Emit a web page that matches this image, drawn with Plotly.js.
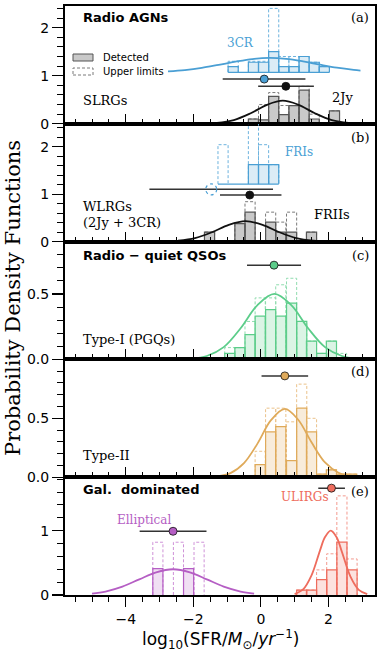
<!DOCTYPE html>
<html>
<head>
<meta charset="utf-8">
<script src="https://cdn.plot.ly/plotly-3.0.1.min.js"></script>
<style>
  html, body { margin: 0; padding: 0; background: #fff; }
  #chart { width: 382px; height: 655px; }
</style>
</head>
<body>
<div id="chart"></div>
<script>
////////////////// data ////////////////////////
// every histogram uses bins 0.3 dex wide, values are PDF heights
const binWidth = 0.3;

// (a) radio AGNs - SLRGs, 3CR histogram sits on an offset of 1.07
const cr3Offset = 1.07;
const cr3Centers = [-0.82, -0.52, -0.22, 0.08, 0.38, 0.68, 0.98, 1.28, 1.58, 1.88];
const cr3Detected = [0.12, 0, 0.21, 0.21, 0.43, 0.12, 0.12, 0.33, 0.21, 0.12];
const cr3All = [0.23, 0, 0.23, 0.23, 1.33, 0.33, 0.33, 0.33, 0.21, 0.12];
const cr3CurveX = [-2.75, -2.25, -1.75, -1.25, -0.75, -0.25, 0.25, 0.75, 1.25, 1.75, 2.25, 2.75, 2.95];
const cr3CurveY = [1.092, 1.118, 1.163, 1.226, 1.292, 1.347, 1.37, 1.351, 1.298, 1.23, 1.167, 1.121, 1.108];

const jyCenters = [-0.22, 0.08, 0.38, 0.68, 0.98, 1.28, 1.58, 2.18];
const jyDetected = [0.10, 0.08, 0.57, 0.19, 0.38, 0.70, 0.10, 0.27];
const jyAll = [0.10, 0.40, 0.65, 0.38, 0.38, 0.78, 0.20, 0.27];
const jyCurveX = [-1.8, -1.3, -0.8, -0.3, 0.2, 0.65, 1.1, 1.6, 2.1, 2.6, 3.1, 3.3];
const jyCurveY = [0.003, 0.018, 0.078, 0.22, 0.40, 0.48, 0.40, 0.22, 0.078, 0.018, 0.003, 0.001];

// (b) WLRGs - FRIs on an offset of 1.21, FRIIs at the bottom
const friOffset = 1.21;
const friCenters = [-1.12, -0.82, -0.52, -0.22, 0.08, 0.38];
const friDetected = [0, 0, 0, 0.41, 0.41, 0.41];
const friAll = [0.83, 0, 0, 1.33, 0.83, 0.41];

const friiCenters = [-1.52, -1.22, -0.92, -0.62, -0.32, -0.02, 0.29, 0.59, 0.91, 1.21, 1.50];
const friiDetected = [0.2, 0, 0, 0.38, 0.62, 0, 0.41, 0.2, 0.2, 0, 0.2];
const friiAll = [0.2, 0, 0, 0.38, 0.84, 0, 0.62, 0.41, 0.62, 0, 0.2];
const friiCurveX = [-2.45, -1.95, -1.45, -0.95, -0.45, 0.05, 0.55, 1.05, 1.55, 2.05];
const friiCurveY = [0.019, 0.074, 0.197, 0.354, 0.43, 0.354, 0.197, 0.074, 0.019, 0.003];

// (c) radio-quiet QSOs, Type-I (PGQs)
const pgqCenters = [-0.92, -0.62, -0.32, -0.02, 0.29, 0.59, 0.91, 1.21, 1.50, 1.80, 2.09, 2.39];
const pgqDetected = [0.046, 0.09, 0.19, 0.33, 0.38, 0.33, 0.43, 0.29, 0.14, 0.046, 0.14, 0];
const pgqAll = [0.09, 0.09, 0.29, 0.47, 0.47, 0.57, 0.62, 0.29, 0.14, 0.046, 0.14, 0.046];
const pgqCurveX = [-2.05, -1.6, -1.1, -0.6, -0.1, 0.4, 0.9, 1.4, 1.9, 2.4, 2.85];
const pgqCurveY = [0.006, 0.026, 0.094, 0.238, 0.415, 0.5, 0.415, 0.238, 0.094, 0.026, 0.006];

// (d) Type-II
const t2Centers = [-0.02, 0.29, 0.59, 0.91, 1.21, 1.50, 1.80, 2.09, 2.39, 2.69];
const t2Detected = [0.106, 0.385, 0.43, 0.14, 0.586, 0.385, 0.026, 0.063, 0.026, 0.026];
const t2All = [0.22, 0.586, 0.586, 0.47, 0.79, 0.50, 0.026, 0.063, 0.026, 0.026];
const t2CurveX = [-1.3, -0.9, -0.5, -0.1, 0.3, 0.71, 1.1, 1.5, 1.9, 2.3, 2.7];
const t2CurveY = [0.007, 0.035, 0.12, 0.285, 0.484, 0.58, 0.49, 0.296, 0.125, 0.038, 0.008];

// (e) galaxy dominated - ellipticals and ULIRGs
const ellCenters = [-3.05, -2.75, -2.44, -2.14, -1.83];
const ellDetected = [0.41, 0, 0, 0.41, 0];
const ellAll = [0.82, 0, 0.82, 0.41, 0.82];
const ellCurveX = [-5.0, -4.6, -4.1, -3.6, -3.1, -2.6, -2.1, -1.6, -1.1, -0.6, -0.2];
const ellCurveY = [0.022, 0.054, 0.13, 0.243, 0.353, 0.40, 0.353, 0.243, 0.13, 0.054, 0.022];

const ulCenters = [1.21, 1.50, 1.80, 2.10, 2.40, 2.70];
const ulDetected = [0.077, 0.077, 0.24, 0.39, 0.82, 0.39];
const ulAll = [0.077, 0.077, 0.39, 0.64, 1.54, 0.56];
const ulCurveX = [1.0, 1.25, 1.5, 1.75, 1.9, 2.07, 2.25, 2.4, 2.65, 2.9, 3.15];
const ulCurveY = [0.015, 0.086, 0.305, 0.69, 0.90, 1.0, 0.89, 0.67, 0.29, 0.081, 0.014];

// mean SFR of each sample with its spread (dot + horizontal bar)
const meanPanel = [1, 1, 2, 2, 3, 4, 5, 5];
const meanX = [0.10, 0.74, -1.47, -0.33, 0.39, 0.71, -2.60, 2.09];
const meanY = [0.93, 0.78, 1.10, 0.98, 0.72, 0.86, 0.99, 1.66];
const meanErrMinus = [1.23, 0.82, 1.83, 0.88, 0.80, 0.69, 0.99, 0.39];
const meanErrPlus = [1.22, 0.83, 1.83, 0.94, 0.80, 0.69, 0.99, 0.40];

////////////////// colours ////////////////////////
const cBlue = "#4a9fd4", cBlueFill = "rgba(74,159,212,0.2)";
const cBlack = "#111111", cGrayEdge = "#555555", cGrayFill = "#c9c9c9", cGrayDash = "#7a7a7a";
const cGreen = "#5ccd8a", cGreenFill = "rgba(92,205,138,0.22)";
const cOrange = "#dfaa5a", cOrangeFill = "rgba(223,170,90,0.22)";
const cPurple = "#b55ec4", cPurpleFill = "rgba(181,94,196,0.2)";
const cRed = "#ee6c5d", cRedFill = "rgba(238,108,93,0.2)";
const meanColors = [cBlue, cBlack, "none", cBlack, cGreen, cOrange, cPurple, cRed];

function axSuffix(n) {
  return n === 1 ? "" : String(n);
}

// outline of each bin as a closed box, gaps in between
function boxes(centers, heights, base, withBaseline) {
  const x = [], y = [];
  centers.forEach((c, i) => {
    if (!heights[i]) return;
    const l = c - binWidth / 2, r = c + binWidth / 2;
    x.push(l, l, r, r, null);
    y.push(base, base + heights[i], base + heights[i], base, null);
  });
  if (withBaseline) {
    x.push(centers[0] - binWidth / 2, centers[centers.length - 1] + binWidth / 2, null);
    y.push(base, base, null);
  }
  return { x, y };
}

function histTraces(n, centers, detected, all, base, edge, fill, dashColor) {
  const s = axSuffix(n);
  const ul = boxes(centers, all, base, false);
  const det = boxes(centers, detected, base, base > 0);
  return [
    {
      type: "bar", x: centers, y: detected, base: base, width: binWidth,
      marker: { color: fill, line: { width: 0 } },
      xaxis: "x" + s, yaxis: "y" + s, hoverinfo: "skip",
    },
    {
      type: "scatter", mode: "lines", x: ul.x, y: ul.y,
      line: { color: dashColor, width: 1, dash: "3px,2px" },
      xaxis: "x" + s, yaxis: "y" + s, hoverinfo: "skip",
    },
    {
      type: "scatter", mode: "lines", x: det.x, y: det.y,
      line: { color: edge, width: 1.2 },
      xaxis: "x" + s, yaxis: "y" + s, hoverinfo: "skip",
    },
  ];
}

function curveTrace(n, x, y, color) {
  const s = axSuffix(n);
  return {
    type: "scatter", mode: "lines", x, y,
    line: { color, width: 1.8, shape: "spline", smoothing: 1 },
    xaxis: "x" + s, yaxis: "y" + s, hoverinfo: "skip",
  };
}

const data = [
  ...histTraces(1, cr3Centers, cr3Detected, cr3All, cr3Offset, cBlue, cBlueFill, "#6db3de"),
  ...histTraces(1, jyCenters, jyDetected, jyAll, 0, cGrayEdge, cGrayFill, cGrayDash),
  curveTrace(1, cr3CurveX, cr3CurveY, cBlue),
  curveTrace(1, jyCurveX, jyCurveY, cBlack),

  ...histTraces(2, friCenters, friDetected, friAll, friOffset, cBlue, cBlueFill, "#6db3de"),
  ...histTraces(2, friiCenters, friiDetected, friiAll, 0, cGrayEdge, cGrayFill, cGrayDash),
  curveTrace(2, friiCurveX, friiCurveY, cBlack),

  ...histTraces(3, pgqCenters, pgqDetected, pgqAll, 0, cGreen, cGreenFill, "#8fdcae"),
  curveTrace(3, pgqCurveX, pgqCurveY, cGreen),

  ...histTraces(4, t2Centers, t2Detected, t2All, 0, cOrange, cOrangeFill, "#ebc28a"),
  curveTrace(4, t2CurveX, t2CurveY, cOrange),

  ...histTraces(5, ellCenters, ellDetected, ellAll, 0, cPurple, cPurpleFill, "#cf92d8"),
  ...histTraces(5, ulCenters, ulDetected, ulAll, 0, cRed, cRedFill, "#f39a8f"),
  curveTrace(5, ellCurveX, ellCurveY, cPurple),
  curveTrace(5, ulCurveX, ulCurveY, cRed),
];

// mean points with their spread
meanX.forEach((mx, i) => {
  const s = axSuffix(meanPanel[i]);
  data.push({
    type: "scatter", mode: "markers", x: [mx], y: [meanY[i]],
    marker: {
      size: 8, color: meanColors[i] === "none" ? "rgba(0,0,0,0)" : meanColors[i],
      line: { color: meanColors[i] === "none" ? "rgba(0,0,0,0)" : "#111", width: 0.8 },
    },
    error_x: {
      type: "data", symmetric: false,
      array: [meanErrPlus[i]], arrayminus: [meanErrMinus[i]],
      color: "#333", thickness: 1.5, width: 0,
    },
    xaxis: "x" + s, yaxis: "y" + s, hoverinfo: "skip",
  });
});

////////////////// layout ////////////////////////
// pixel -> paper helpers for text placed on the figure
const PX = (px) => (px - 65) / 310;
const PY = (py) => (595 - py) / 589;

const serif = "DejaVu Serif";
const sans = "DejaVu Sans";

function label(text, px, py, opts) {
  return Object.assign({
    text, x: PX(px), y: PY(py), xref: "paper", yref: "paper",
    xanchor: "left", yanchor: "middle", showarrow: false,
    font: { family: serif, size: 13, color: "black" },
  }, opts || {});
}

const annotations = [
  label("<b>Radio AGNs</b>", 81, 18, { font: { family: sans, size: 13, color: "black" } }),
  label("(a)", 371, 18, { xanchor: "right" }),
  label("3CR", 240, 43, { xanchor: "center", font: { family: serif, size: 12, color: cBlue } }),
  label("SLRGs", 81, 101),
  label("2Jy", 330, 97),
  label("Detected", 101, 57, { font: { family: sans, size: 10, color: "black" } }),
  label("Upper limits", 101, 72, { font: { family: sans, size: 10, color: "black" } }),

  label("(b)", 371, 137, { xanchor: "right" }),
  label("FRIs", 283, 152, { font: { family: serif, size: 12, color: cBlue } }),
  label("WLRGs", 81, 206),
  label("(2Jy + 3CR)", 81, 222),
  label("FRIIs", 312, 214),

  label("<b>Radio − quiet QSOs</b>", 81, 255, { font: { family: sans, size: 13, color: "black" } }),
  label("(c)", 371, 255, { xanchor: "right" }),
  label("Type-I (PGQs)", 81, 339),

  label("(d)", 371, 371, { xanchor: "right" }),
  label("Type-II", 81, 455),

  label("<b>Gal.  dominated</b>", 81, 489, { font: { family: sans, size: 13, color: "black" } }),
  label("(e)", 371, 491, { xanchor: "right" }),
  label("ULIRGs", 305, 497, { xanchor: "center", font: { family: serif, size: 12, color: cRed } }),
  label("Elliptical", 144, 520, { xanchor: "center", font: { family: serif, size: 12, color: cPurple } }),

  label("log<sub>10</sub>(SFR/<i>M</i><sub>⊙</sub>/<i>yr</i><sup>−1</sup>)", 220, 639,
    { xanchor: "center", font: { family: sans, size: 17, color: "black" } }),
  label("Probability Density Functions", 13, 298,
    { xanchor: "center", textangle: -90, font: { family: serif, size: 21, color: "black" } }),
];

const shapes = [
  // hand-made legend of panel (a)
  { type: "rect", xref: "paper", yref: "paper", x0: PX(73), x1: PX(93), y0: PY(61), y1: PY(54),
    fillcolor: cGrayFill, line: { color: cGrayEdge, width: 1 } },
  { type: "rect", xref: "paper", yref: "paper", x0: PX(73), x1: PX(93), y0: PY(75), y1: PY(68),
    fillcolor: "rgba(0,0,0,0)", line: { color: cGrayDash, width: 1, dash: "3px,2px" } },
  // FRI mean drawn as a dashed open circle
  { type: "circle", xref: "x2", yref: "y2", xsizemode: "pixel", ysizemode: "pixel",
    xanchor: meanX[2], yanchor: meanY[2], x0: -5.5, x1: 5.5, y0: -5.5, y1: 5.5,
    line: { color: cBlue, width: 1.2, dash: "dot" }, fillcolor: "rgba(0,0,0,0)" },
];

const yRanges = [[0, 2.45], [0, 2.48], [0, 0.9], [0, 1.0], [0, 1.83]];
const yDticks = [1, 1, 0.5, 0.5, 1];
const yMinor = [0.2, 0.2, 0.1, 0.1, 0.2];

const layout = {
  width: 382, height: 655,
  margin: { l: 65, r: 7, t: 6, b: 60 },
  paper_bgcolor: "white", plot_bgcolor: "white",
  showlegend: false,
  barmode: "overlay",
  font: { family: sans, size: 14, color: "black" },
  annotations, shapes,
};

for (let i = 0; i < 5; i++) {
  const s = axSuffix(i + 1);
  const tickDir = i < 4 ? "inside" : "outside";
  layout["xaxis" + s] = {
    anchor: "y" + s, domain: [0, 1], range: [-5.8, 3.38],
    showline: true, mirror: true, linewidth: 2, linecolor: "black",
    ticks: tickDir, ticklen: 10, tickwidth: 1.2, tickcolor: "black",
    tick0: 0, dtick: 2,
    minor: { dtick: 0.5, tick0: 0, ticks: tickDir, ticklen: 5, tickwidth: 1, tickcolor: "black" },
    showgrid: false, zeroline: false, showticklabels: i === 4,
    tickfont: { family: sans, size: 14 },
  };
  const y = {
    anchor: "x" + s, domain: [0.8 - 0.2 * i, 1 - 0.2 * i], range: yRanges[i],
    showline: true, mirror: true, linewidth: 2, linecolor: "black",
    ticks: "outside", ticklen: 11, tickwidth: 1.2, tickcolor: "black",
    tick0: 0, dtick: yDticks[i],
    minor: { dtick: yMinor[i], tick0: 0, ticks: "outside", ticklen: 6, tickwidth: 1, tickcolor: "black" },
    showgrid: false, zeroline: false,
    tickfont: { family: sans, size: 14 },
  };
  if (yDticks[i] < 1) {
    y.tickformat = ".1f";
    y.tickmode = "array";
    y.tickvals = [0, 0.5];
  }
  layout["yaxis" + s] = y;
}

Plotly.newPlot("chart", data, layout, { displayModeBar: false, staticPlot: true });
</script>
</body>
</html>
